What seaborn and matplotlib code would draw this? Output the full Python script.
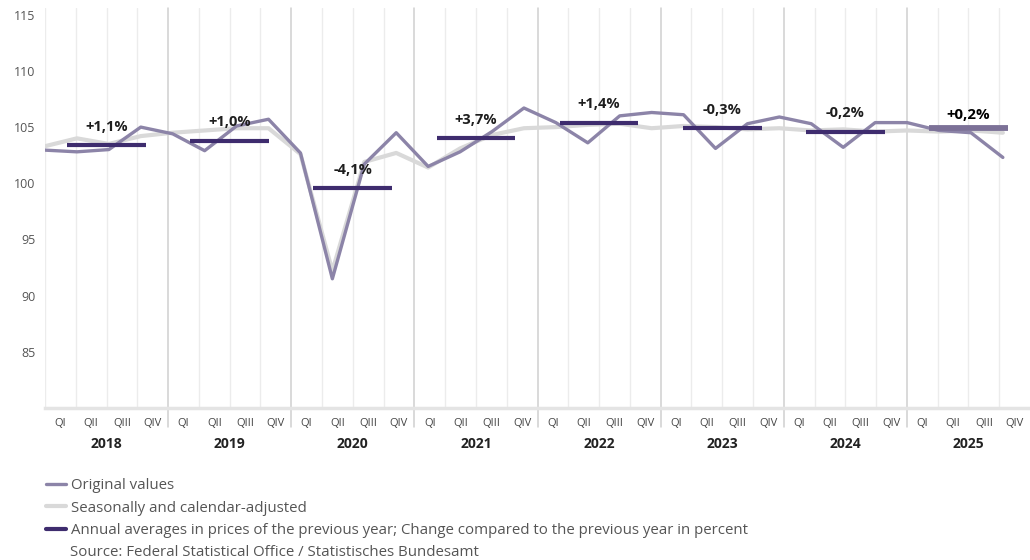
import matplotlib
matplotlib.use("Agg")
import matplotlib.pyplot as plt
import seaborn as sns
import pandas as pd
from matplotlib.lines import Line2D

# chart data
years = [2018, 2019, 2020, 2021, 2022, 2023, 2024, 2025]
quarters = ["QI", "QII", "QIII", "QIV"]

original = [102.95, 102.8, 103.0, 105.0,
            104.4, 102.9, 105.1, 105.7,
            102.7, 91.5, 101.7, 104.5,
            101.5, 102.8, 104.6, 106.7,
            105.4, 103.6, 106.0, 106.3,
            106.1, 103.1, 105.3, 105.9,
            105.3, 103.2, 105.4, 105.4,
            104.7, 104.5, 102.3]
adjusted = [103.3, 104.0, 103.5, 104.2,
            104.5, 104.7, 104.9, 104.9,
            102.6, 92.2, 101.9, 102.7,
            101.4, 103.1, 104.3, 104.9,
            105.0, 105.2, 105.3, 104.9,
            105.1, 105.0, 104.8, 104.9,
            104.7, 104.8, 104.6, 104.7,
            104.6, 104.7, 104.5]
annual_avg = [103.4, 103.8, 99.6, 104.0, 105.4, 104.9, 104.6, 104.9]
annual_change = ["+1,1%", "+1,0%", "-4,1%", "+3,7%", "+1,4%", "-0,3%", "-0,2%", "+0,2%"]

legend_labels = ["Original values",
                 "Seasonally and calendar-adjusted",
                 "Annual averages in prices of the previous year; Change compared to the previous year in percent"]
source_text = "Source: Federal Statistical Office / Statistisches Bundesamt"

# colours
c_orig = "#8c84a8"
c_adj = "#d9d9d9"
c_avg = "#3e2c6e"
c_avg_last = "#7c7197"
c_grid = "#ececec"
c_sep = "#cfcfcf"
c_text = "#555555"

df = pd.DataFrame({
    "idx": range(len(original)),
    "Original values": original,
    "Seasonally and calendar-adjusted": adjusted,
})

sns.set_style("white")
plt.rcParams["font.family"] = ["Open Sans", "DejaVu Sans"]

fig = plt.figure(figsize=(10.3, 5.6), dpi=100)
ax = fig.add_axes([45 / 1030, 1 - 408 / 560, 985 / 1030, 400 / 560])

n_q = len(years) * 4
ax.set_xlim(0, n_q)
ax.set_ylim(80, 115.6)
ax.set_yticks([85, 90, 95, 100, 105, 110, 115])
ax.tick_params(axis="y", length=4, width=1, color="#d0d0d0", labelsize=9,
               labelcolor=c_text, pad=3)
for s in ["top", "right", "left"]:
    ax.spines[s].set_visible(False)
ax.spines["bottom"].set_color("#e4e4e4")
ax.spines["bottom"].set_linewidth(2.5)

# quarter gridlines and year separators
for b in range(1, n_q):
    if b % 4 == 0:
        ax.axvline(b, ymin=-0.048, ymax=1, color=c_sep, lw=1.1, clip_on=False, zorder=1)
    else:
        ax.axvline(b, color=c_grid, lw=1, zorder=1)
ax.axvline(0, color=c_grid, lw=1, zorder=1)

# x labels: quarters and years
ax.set_xticks([q + 0.5 for q in range(n_q)])
ax.set_xticklabels(quarters * len(years))
ax.tick_params(axis="x", length=0, labelsize=8, labelcolor="#444444", pad=7)
for i, y in enumerate(years):
    ax.text(i * 4 + 2, 77.4, str(y), ha="center", va="top", fontsize=10,
            fontweight="bold", color="#222222")

# lines on their own x scale (31 quarters spread over the plot width)
ax_line = ax.twiny()
ax_line.set_xlim(0, 30.85)
sns.lineplot(data=df, x="idx", y="Seasonally and calendar-adjusted", ax=ax_line,
             color=c_adj, lw=3, zorder=2)
sns.lineplot(data=df, x="idx", y="Original values", ax=ax_line,
             color=c_orig, lw=2.4, zorder=3)
ax_line.set_axis_off()
ax_line.set_ylim(80, 115.6)

# annual averages with change labels
ax_bar = ax.twiny()
ax_bar.set_xlim(0, n_q)
ax_bar.set_ylim(80, 115.6)
ax_bar.set_axis_off()
last = len(years) - 1
for i, (v, lab) in enumerate(zip(annual_avg, annual_change)):
    xc = i * 4 + 2
    is_last = i == last
    ax_bar.hlines(v, xc - 1.28, xc + 1.28, color=c_avg_last if is_last else c_avg,
                  lw=4.2 if is_last else 3.0, zorder=4)
    ax_bar.annotate(lab, (xc, v), xytext=(0, 4.5 if is_last else 8),
                    textcoords="offset points", ha="center", va="bottom",
                    fontsize=10.8 if is_last else 10.5, fontweight="bold",
                    color="#000000" if is_last else "#1e1e1e", zorder=5)

# legend below the chart
handles = [Line2D([], [], color=c_orig, lw=2.4),
           Line2D([], [], color=c_adj, lw=3),
           Line2D([], [], color=c_avg, lw=3)]
fig.legend(handles, legend_labels, loc="upper left",
           bbox_to_anchor=(40 / 1030, 1 - 472 / 560), frameon=False,
           fontsize=10.8, labelcolor=c_text, handlelength=1.3,
           handletextpad=0.35, labelspacing=0.5, borderaxespad=0)
fig.text(70 / 1030, 1 - 552 / 560, source_text, ha="left", va="center",
         fontsize=10.8, color=c_text)

fig.savefig("out.png", dpi=100)
